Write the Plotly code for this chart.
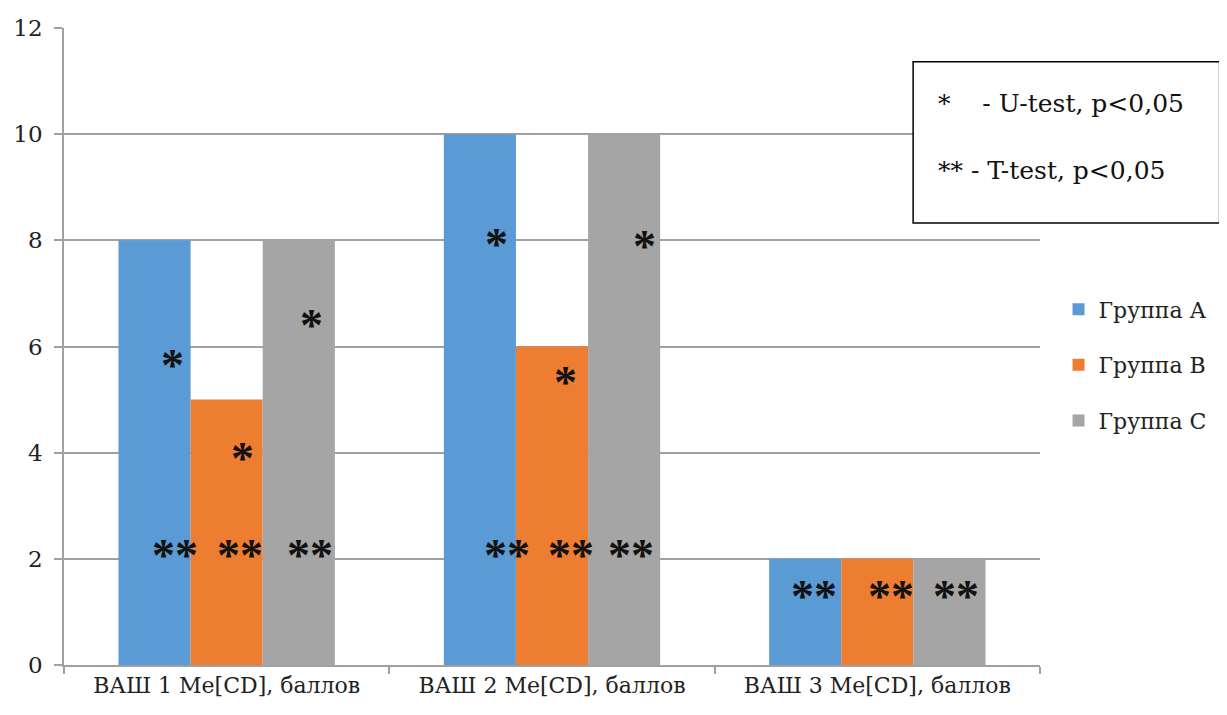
import plotly.graph_objects as go

categories = ["ВАШ 1 Me[CD], баллов", "ВАШ 2 Me[CD], баллов", "ВАШ 3 Me[CD], баллов"]
series_names = ["Группа А", "Группа В", "Группа С"]
group_a = [8, 10, 2]
group_b = [5, 6, 2]
group_c = [8, 10, 2]
colors = ["#5B9BD5", "#ED7D31", "#A5A5A5"]

# significance marks: category index, offset within category, y value, text
marks_cat = [0, 0, 0, 0, 0, 0, 1, 1, 1, 1, 1, 1, 2, 2, 2]
marks_off = [-0.168, 0.05, 0.26, -0.159, 0.041, 0.256,
             -0.172, 0.04, 0.283, -0.138, 0.058, 0.243,
             -0.194, 0.043, 0.243]
marks_y = [5.75, 4.0, 6.5, 2.17, 2.17, 2.17,
           8.03, 5.43, 8.0, 2.17, 2.17, 2.17,
           1.41, 1.41, 1.41]
marks_txt = ["*", "*", "*", "**", "**", "**",
             "*", "*", "*", "**", "**", "**",
             "**", "**", "**"]

legend_lines = ["*&nbsp;&nbsp;&nbsp; - U-test, p&lt;0,05", "** - T-test, p&lt;0,05"]

SERIF = "DejaVu Serif"
STAR_FONT = "Liberation Serif"

fig = go.Figure()
for name, vals, col in zip(series_names, [group_a, group_b, group_c], colors):
    fig.add_trace(go.Bar(x=categories, y=vals, name=name, marker_color=col,
                         marker_line_width=0, legendgroup=name))

for c, o, y, t in zip(marks_cat, marks_off, marks_y, marks_txt):
    fig.add_annotation(x=c + o, y=y, xref="x", yref="y", text="<b>" + t + "</b>", showarrow=False,
                       font=dict(family=STAR_FONT, size=46, color="#111111"),
                       xanchor="center", yanchor="middle", yshift=-6)

# notes box
fig.add_shape(type="rect", xref="paper", yref="paper", x0=0.87, x1=1.184, y0=0.694, y1=0.947,
              line=dict(color="#000000", width=1.5), fillcolor="white", layer="above")
fig.add_annotation(xref="paper", yref="paper", x=0.893, y=0.881, text=legend_lines[0],
                   showarrow=False, xanchor="left", yanchor="middle",
                   font=dict(family=SERIF, size=25, color="#111111"))
fig.add_annotation(xref="paper", yref="paper", x=0.893, y=0.776, text=legend_lines[1],
                   showarrow=False, xanchor="left", yanchor="middle",
                   font=dict(family=SERIF, size=25, color="#111111"))

fig.update_layout(
    width=1219, height=707,
    margin=dict(l=56, r=187, t=20, b=50, autoexpand=False),
    paper_bgcolor="white", plot_bgcolor="white",
    barmode="group", bargap=0.335, bargroupgap=0,
    font=dict(family=SERIF, size=23, color="#222222"),
    showlegend=True,
    legend=dict(x=1.019, y=0.471, xanchor="left", yanchor="middle",
                font=dict(family=SERIF, size=22, color="#222222"),
                traceorder="grouped", tracegroupgap=24, itemwidth=30,
                bgcolor="rgba(0,0,0,0)"),
    xaxis=dict(showline=True, linecolor="#a0a0a0", linewidth=1.5,
               ticks="outside", tickson="boundaries", ticklen=7, tickcolor="#a0a0a0",
               tickwidth=1.5, showgrid=False, tickangle=0,
               tickfont=dict(family=SERIF, size=22, color="#222222")),
    yaxis=dict(range=[0, 12], dtick=2, showline=True, linecolor="#a0a0a0", linewidth=1.5,
               ticks="outside", ticklen=8, tickcolor="#a0a0a0", tickwidth=1.5,
               showgrid=True, gridcolor="#a0a0a0", gridwidth=1.5, zeroline=False,
               ticklabelstandoff=7,
               tickfont=dict(family=SERIF, size=23, color="#222222")),
)

fig.write_html("out.html")
